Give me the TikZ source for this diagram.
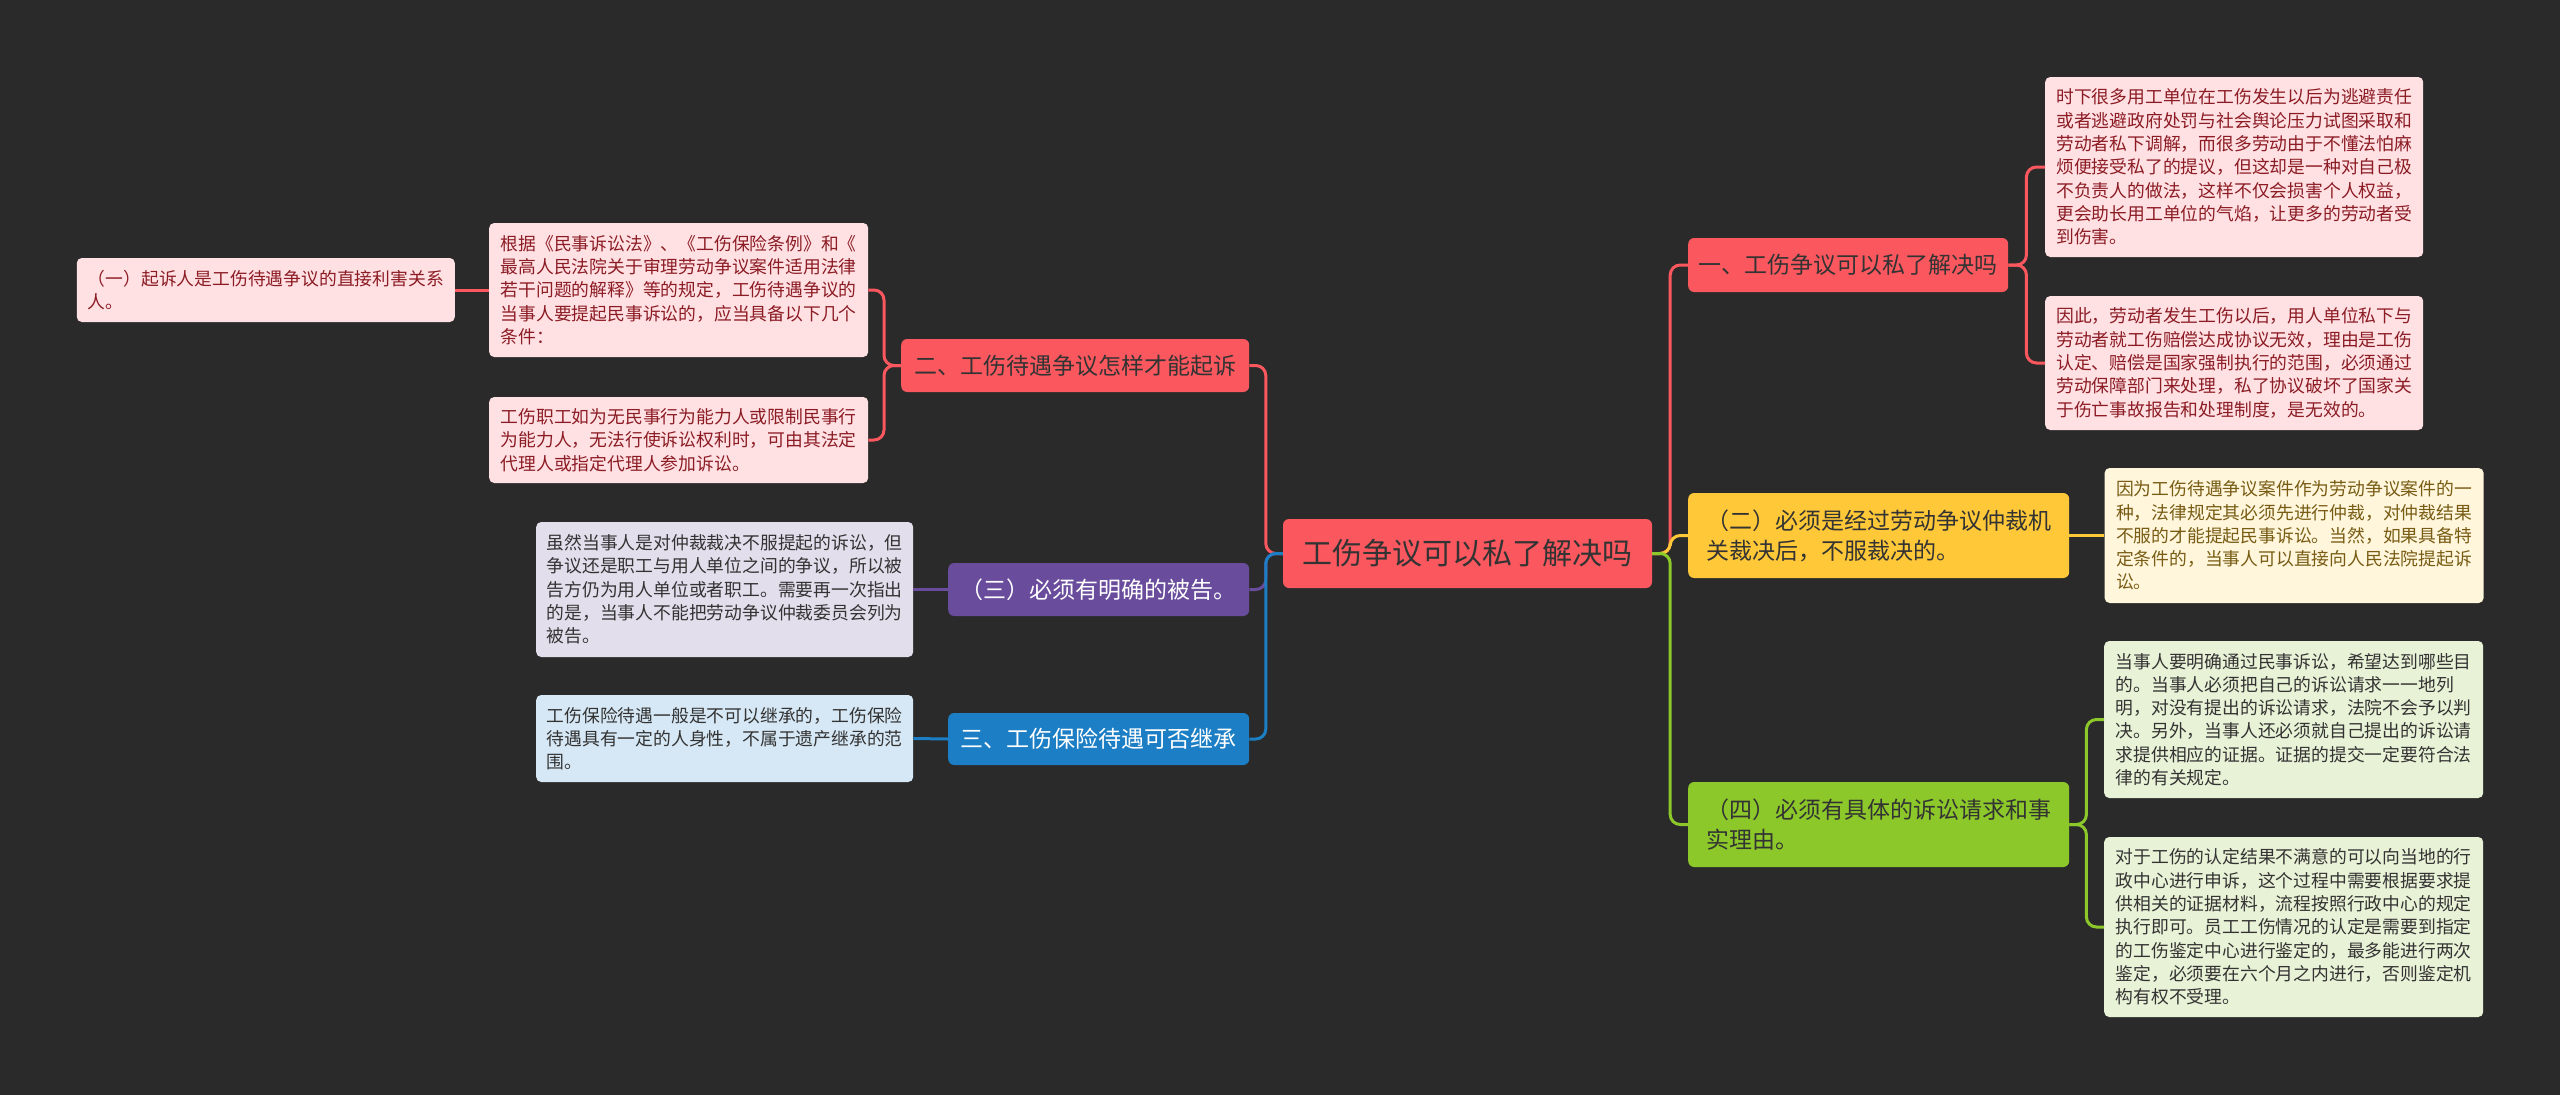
\documentclass[tikz,border=0pt]{standalone}
\usepackage{fontspec}
\newfontfamily\cjk{Noto Sans CJK SC}
\usetikzlibrary{positioning}

\definecolor{bg}{RGB}{42,42,42}
\definecolor{redtopic}{RGB}{250,88,94}
\definecolor{redleaf}{RGB}{255,225,228}
\definecolor{redtext}{RGB}{140,28,36}
\definecolor{yellowtopic}{RGB}{255,200,56}
\definecolor{yellowleaf}{RGB}{255,246,220}
\definecolor{yellowtext}{RGB}{120,92,20}
\definecolor{greentopic}{RGB}{140,200,42}
\definecolor{greenleaf}{RGB}{232,242,214}
\definecolor{purpletopic}{RGB}{106,76,156}
\definecolor{purpleleaf}{RGB}{226,222,236}
\definecolor{bluetopic}{RGB}{28,126,196}
\definecolor{blueleaf}{RGB}{214,232,245}
\definecolor{darktext}{RGB}{51,51,51}

\begin{document}
\begin{tikzpicture}[x=1pt,y=-1pt]
  \tikzstyle{topic}=[rounded corners=6pt, inner xsep=10pt, inner ysep=0pt, align=left, anchor=west, text=darktext, font={\cjk\fontsize{23}{30}\selectfont}]
  \tikzstyle{leaf}=[rounded corners=5pt, inner xsep=10pt, inner ysep=0pt, align=left, anchor=west, text=darktext, font={\cjk\fontsize{17.8}{23.3}\selectfont}]
  \tikzstyle{link}=[line width=3pt, rounded corners=10pt]

  \fill[bg] (0,0) rectangle (2560,1095);
  \useasboundingbox (0,0) rectangle (2560,1095);

  % centre
  \node[topic, anchor=center, fill=redtopic, minimum width=369pt, minimum height=69pt, font={\cjk\fontsize{30}{36}\selectfont}] (root) at (1467.5,553.5) {工伤争议可以私了解决吗};

  % right side
  \node[topic, fill=redtopic, minimum width=320pt, minimum height=54pt] (ques1) at (1688,265) {一、工伤争议可以私了解决吗};
  \node[topic, fill=yellowtopic, minimum width=381pt, minimum height=85pt] (cond2) at (1688,535.5) {（二）必须是经过劳动争议仲裁机\\关裁决后，不服裁决的。};
  \node[topic, fill=greentopic, minimum width=381pt, minimum height=85pt] (cond4) at (1688,824.5) {（四）必须有具体的诉讼请求和事\\实理由。};

  \node[leaf, fill=redleaf, text=redtext, minimum width=378pt, minimum height=180pt] (ques1a) at (2045,167) {时下很多用工单位在工伤发生以后为逃避责任\\或者逃避政府处罚与社会舆论压力试图采取和\\劳动者私下调解，而很多劳动由于不懂法怕麻\\烦便接受私了的提议，但这却是一种对自己极\\不负责人的做法，这样不仅会损害个人权益，\\更会助长用工单位的气焰，让更多的劳动者受\\到伤害。};
  \node[leaf, fill=redleaf, text=redtext, minimum width=378pt, minimum height=134pt] (ques1b) at (2045,363) {因此，劳动者发生工伤以后，用人单位私下与\\劳动者就工伤赔偿达成协议无效，理由是工伤\\认定、赔偿是国家强制执行的范围，必须通过\\劳动保障部门来处理，私了协议破坏了国家关\\于伤亡事故报告和处理制度，是无效的。};
  \node[leaf, fill=yellowleaf, text=yellowtext, minimum width=379pt, minimum height=135pt, right=35pt of cond2] (cond2a) {因为工伤待遇争议案件作为劳动争议案件的一\\种，法律规定其必须先进行仲裁，对仲裁结果\\不服的才能提起民事诉讼。当然，如果具备特\\定条件的，当事人可以直接向人民法院提起诉\\讼。};
  \node[leaf, fill=greenleaf, minimum width=379pt, minimum height=157pt] (cond4a) at (2104,719.5) {当事人要明确通过民事诉讼，希望达到哪些目\\的。当事人必须把自己的诉讼请求一一地列\\明，对没有提出的诉讼请求，法院不会予以判\\决。另外，当事人还必须就自己提出的诉讼请\\求提供相应的证据。证据的提交一定要符合法\\律的有关规定。};
  \node[leaf, fill=greenleaf, minimum width=379pt, minimum height=180pt] (cond4b) at (2104,927) {对于工伤的认定结果不满意的可以向当地的行\\政中心进行申诉，这个过程中需要根据要求提\\供相关的证据材料，流程按照行政中心的规定\\执行即可。员工工伤情况的认定是需要到指定\\的工伤鉴定中心进行鉴定的，最多能进行两次\\鉴定，必须要在六个月之内进行，否则鉴定机\\构有权不受理。};

  % left side
  \node[topic, fill=redtopic, minimum width=348pt, minimum height=53pt] (ques2) at (901,365.5) {二、工伤待遇争议怎样才能起诉};
  \node[topic, fill=purpletopic, text=white, minimum width=301pt, minimum height=53pt] (cond3) at (948,589.5) {（三）必须有明确的被告。};
  \node[topic, fill=bluetopic, text=white, minimum width=301pt, minimum height=52pt] (ques3) at (948,739) {三、工伤保险待遇可否继承};

  \node[leaf, fill=redleaf, text=redtext, minimum width=379pt, minimum height=134pt] (ques2a) at (489,290) {根据《民事诉讼法》、《工伤保险条例》和《\\最高人民法院关于审理劳动争议案件适用法律\\若干问题的解释》等的规定，工伤待遇争议的\\当事人要提起民事诉讼的，应当具备以下几个\\条件：};
  \node[leaf, fill=redleaf, text=redtext, minimum width=379pt, minimum height=86pt] (ques2b) at (489,440) {工伤职工如为无民事行为能力人或限制民事行\\为能力人，无法行使诉讼权利时，可由其法定\\代理人或指定代理人参加诉讼。};
  \node[leaf, fill=redleaf, text=redtext, minimum width=378pt, minimum height=64pt, left=34pt of ques2a] (cond1) {（一）起诉人是工伤待遇争议的直接利害关系\\人。};
  \node[leaf, fill=purpleleaf, minimum width=377pt, minimum height=135pt] (cond3a) at (536,589.5) {虽然当事人是对仲裁裁决不服提起的诉讼，但\\争议还是职工与用人单位之间的争议，所以被\\告方仍为用人单位或者职工。需要再一次指出\\的是，当事人不能把劳动争议仲裁委员会列为\\被告。};
  \node[leaf, fill=blueleaf, minimum width=377pt, minimum height=87pt] (ques3a) at (536,738.5) {工伤保险待遇一般是不可以继承的，工伤保险\\待遇具有一定的人身性，不属于遗产继承的范\\围。};

  % connectors
  \draw[link, redtopic] (root.east) -- ++(18,0) |- (ques1.west);
  \draw[link, yellowtopic] (root.east) -- ++(18,0) |- (cond2.west);
  \draw[link, greentopic] (root.east) -- ++(18,0) |- (cond4.west);
  \draw[link, redtopic] (ques1.east) -- ++(18,0) |- (ques1a.west);
  \draw[link, redtopic] (ques1.east) -- ++(18,0) |- (ques1b.west);
  \draw[link, yellowtopic] (cond2.east) -- (cond2a.west);
  \draw[link, greentopic] (cond4.east) -- ++(17,0) |- (cond4a.west);
  \draw[link, greentopic] (cond4.east) -- ++(17,0) |- (cond4b.west);

  \draw[link, redtopic] (root.west) -- ++(-17,0) |- (ques2.east);
  \draw[link, purpletopic] (root.west) -- ++(-17,0) |- (cond3.east);
  \draw[link, bluetopic] (root.west) -- ++(-17,0) |- (ques3.east);
  \draw[link, redtopic] (ques2.west) -- ++(-17,0) |- (ques2a.east);
  \draw[link, redtopic] (ques2.west) -- ++(-17,0) |- (ques2b.east);
  \draw[link, redtopic] (ques2a.west) -- (cond1.east);
  \draw[link, purpletopic] (cond3.west) -- (cond3a.east);
  \draw[link, bluetopic] (ques3.west) -- (ques3a.east);
\end{tikzpicture}
\end{document}
